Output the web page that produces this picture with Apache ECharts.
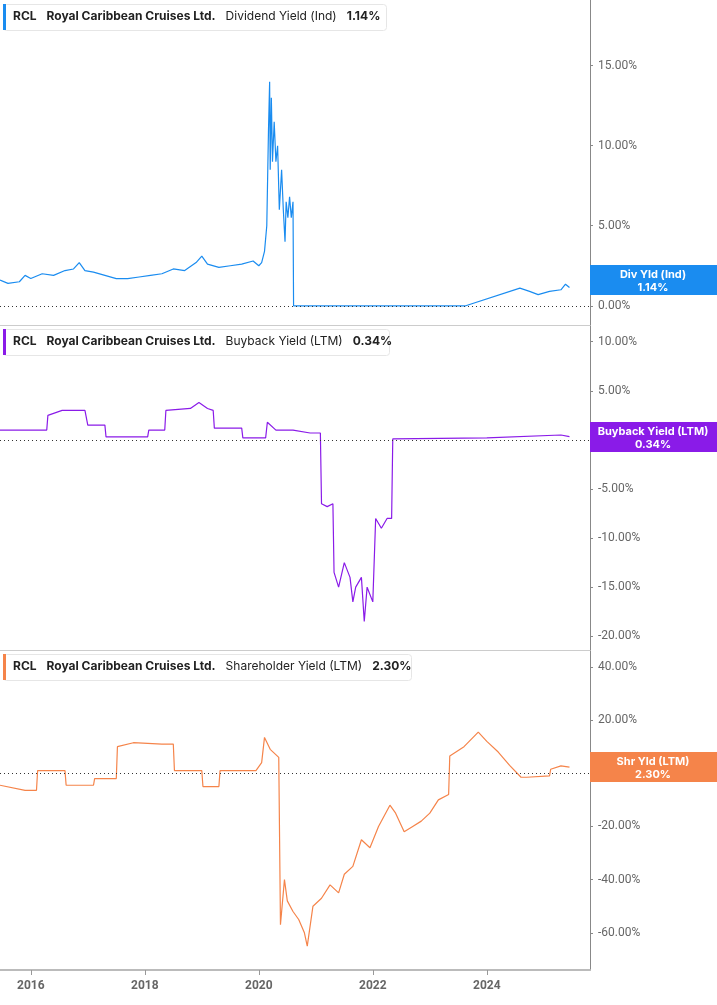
<!DOCTYPE html><html><head><meta charset="utf-8"><script src="https://cdn.jsdelivr.net/npm/echarts@6/dist/echarts.min.js"></script>
<style>html,body{margin:0;padding:0;background:#fff}#c{width:717px;height:1005px}</style></head><body><div id="c"></div><script>
// [decimal year, value %]
const divYield=[[2015.46,1.6],[2015.6,1.4],[2015.8,1.5],[2015.9,1.9],[2016.0,1.7],[2016.2,2.0],[2016.4,1.9],[2016.6,2.2],[2016.75,2.3],[2016.85,2.7],[2016.95,2.2],[2017.1,2.1],[2017.3,1.9],[2017.5,1.7],[2017.7,1.7],[2017.9,1.8],[2018.1,1.9],[2018.3,2.0],[2018.5,2.3],[2018.7,2.2],[2018.9,2.7],[2019.0,3.1],[2019.1,2.6],[2019.3,2.4],[2019.5,2.5],[2019.7,2.6],[2019.9,2.8],[2020.0,2.5],[2020.05,2.7],[2020.1,3.4],[2020.14,5.0],[2020.17,11.0],[2020.19,14.0],[2020.2,8.5],[2020.22,13.0],[2020.24,9.0],[2020.27,11.5],[2020.3,9.0],[2020.33,10.0],[2020.36,6.0],[2020.4,8.5],[2020.43,6.0],[2020.46,4.0],[2020.48,6.5],[2020.51,5.5],[2020.54,6.8],[2020.57,5.5],[2020.6,6.5],[2020.61,0],[2023.63,0],[2024.58,1.1],[2024.75,0.9],[2024.9,0.7],[2025.1,0.9],[2025.3,1.0],[2025.38,1.35],[2025.45,1.14]];
const buyback=[[2015.46,1.0],[2016.28,1.0],[2016.3,2.5],[2016.55,3.0],[2016.95,3.0],[2017.0,1.5],[2017.3,1.5],[2017.32,0.3],[2018.05,0.3],[2018.07,1.0],[2018.35,1.0],[2018.37,3.0],[2018.8,3.2],[2018.95,3.8],[2019.1,3.2],[2019.2,3.0],[2019.22,1.2],[2019.7,1.2],[2019.72,0.2],[2020.12,0.2],[2020.15,1.8],[2020.3,1.0],[2020.6,1.0],[2020.9,0.7],[2021.08,0.7],[2021.1,-6.5],[2021.2,-6.8],[2021.3,-6.5],[2021.32,-13.5],[2021.4,-15],[2021.5,-12.5],[2021.6,-14],[2021.65,-16.5],[2021.7,-15],[2021.8,-14],[2021.85,-18.5],[2021.9,-15],[2022.0,-16.5],[2022.05,-8],[2022.15,-9],[2022.25,-8],[2022.33,-8],[2022.35,0.1],[2024.0,0.2],[2025.3,0.5],[2025.45,0.34]];
const shYield=[[2015.46,-4.5],[2015.9,-6.4],[2016.1,-6.4],[2016.12,1.0],[2016.6,1.0],[2016.62,-4.5],[2017.1,-4.5],[2017.12,-2.0],[2017.5,-2.0],[2017.52,10.0],[2017.8,11.5],[2018.3,11.0],[2018.5,11.0],[2018.52,1.0],[2019.0,1.0],[2019.02,-5.0],[2019.3,-5.0],[2019.32,1.0],[2019.95,1.0],[2020.05,4],[2020.1,13.5],[2020.2,9],[2020.35,6],[2020.38,-57],[2020.45,-40],[2020.5,-48],[2020.6,-52],[2020.7,-55],[2020.8,-60],[2020.85,-65],[2020.95,-50],[2021.1,-47],[2021.25,-42],[2021.4,-45],[2021.5,-38],[2021.65,-35],[2021.8,-25],[2021.95,-28],[2022.1,-20],[2022.3,-12],[2022.4,-15],[2022.55,-22],[2022.7,-20],[2022.85,-18],[2023.0,-15],[2023.15,-10],[2023.33,-8],[2023.35,6.5],[2023.6,10],[2023.85,15.5],[2024.0,12],[2024.2,8],[2024.4,3],[2024.6,-1.5],[2024.7,-1.5],[2025.1,-1.0],[2025.12,1.5],[2025.3,2.8],[2025.45,2.3]];
const yearTicks=[2016,2018,2020,2022,2024];
const lastDiv=1.14,lastBuy=0.34,lastSh=2.30;

const grids=[{left:0,right:127,top:0,height:325},{left:0,right:127,top:326,height:324},{left:0,right:127,top:651,height:319}];
const xAxes=grids.map((g,i)=>({type:'value',gridIndex:i,min:2015.46,max:2025.81,
  axisLine:{show:i==2,onZero:false,lineStyle:{color:'#bbb',width:2}},
  axisTick:{show:i==2,length:5,lineStyle:{color:'#999'},customValues:yearTicks},
  splitLine:{show:false},
  axisLabel:{show:i==2,color:'#666',fontWeight:'bold',fontSize:12,fontFamily:'Roboto',margin:10,
    customValues:yearTicks,formatter:v=>String(Math.round(v))}}));
const yTicks=[[0,5,10,15],[-20,-15,-10,-5,0,5,10],[-60,-40,-20,0,20,40]];
const yRange=[[-1.2,19.1],[-21.4,11.6],[-74,46]];
const yAxes=yRange.map((r,i)=>({type:'value',gridIndex:i,position:'right',min:r[0],max:r[1],
  axisLine:{show:true,lineStyle:{color:'#888'}},axisTick:{show:true,length:3,lineStyle:{color:'#888'},customValues:yTicks[i]},splitLine:{show:false},
  axisLabel:{color:'#666',fontSize:12,fontFamily:'Roboto',margin:8,formatter:v=>v.toFixed(2)+'%',customValues:yTicks[i]}}));
const colors=['#1a8cf0','#8a1be8','#f5844a'];
const datas=[divYield,buyback,shYield];
const series=datas.map((d,i)=>({type:'line',xAxisIndex:i,yAxisIndex:i,data:d,showSymbol:false,
  lineStyle:{color:colors[i],width:1.2},itemStyle:{color:colors[i]},
  markLine:{silent:true,symbol:'none',label:{show:false},lineStyle:{color:'#333',type:[1,3],width:1},data:[{yAxis:0}]}}));
const headers=[['Dividend Yield (Ind)',lastDiv],['Buyback Yield (LTM)',lastBuy],['Shareholder Yield (LTM)',lastSh]];
const hTops=[4,329,654];const hW=[383,386,408];
const graphic=[];
headers.forEach((h,i)=>{
  graphic.push({type:'rect',left:3,top:hTops[i],shape:{width:hW[i],height:26,r:3},style:{fill:'#fff',stroke:'#e6e6e6'},z:10});
  graphic.push({type:'rect',left:3,top:hTops[i],shape:{width:3,height:26},style:{fill:colors[i]},z:11});
  graphic.push({type:'text',left:13,top:hTops[i]+6,z:12,style:{text:'{a|RCL}   {a|Royal Caribbean Cruises Ltd.}   {b|'+h[0]+'}   {a|'+h[1].toFixed(2)+'%}',
    rich:{a:{fontWeight:'bold',fontSize:12,fill:'#222',fontFamily:'Inter'},b:{fontSize:12,fill:'#222',fontFamily:'Inter'}}}});
});
const tags=[['Div Yld (Ind)',lastDiv,265,0],['Buyback Yield (LTM)',lastBuy,422,1],['Shr Yld (LTM)',lastSh,752,2]];
tags.forEach(t=>{
  graphic.push({type:'rect',left:590,top:t[2],shape:{width:127,height:30},style:{fill:colors[t[3]]},z:10});
  graphic.push({type:'text',x:653,y:t[2]+3,z:11,style:{text:t[0]+'\n'+t[1].toFixed(2)+'%',align:'center',fill:'#fff',fontWeight:'bold',fontSize:11,lineHeight:13,fontFamily:'Inter'}});
});
graphic.push({type:'line',shape:{x1:0,y1:325.5,x2:590,y2:325.5},style:{stroke:'#ccc'}});
graphic.push({type:'line',shape:{x1:0,y1:650.5,x2:590,y2:650.5},style:{stroke:'#ccc'}});
const chart=echarts.init(document.getElementById('c'));
chart.setOption({animation:false,grid:grids,xAxis:xAxes,yAxis:yAxes,series,graphic});
</script></body></html>
